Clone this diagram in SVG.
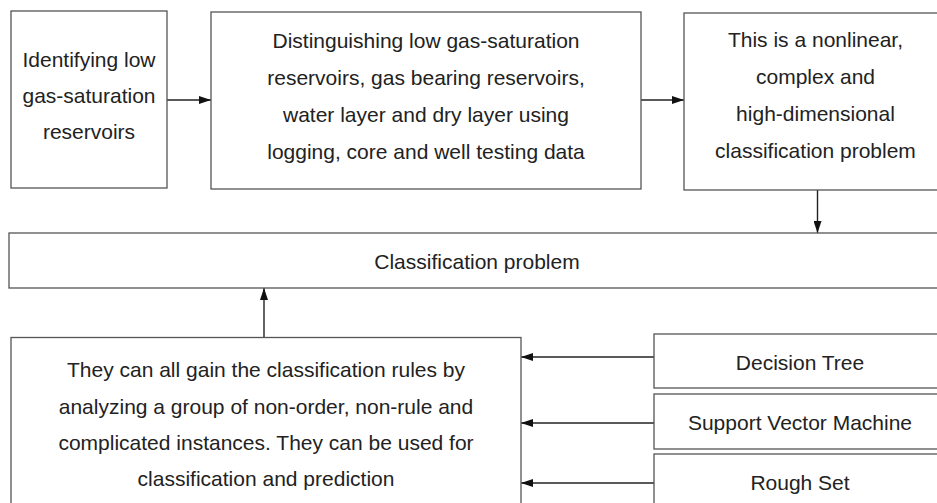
<svg xmlns="http://www.w3.org/2000/svg" width="937" height="503" viewBox="0 0 937 503">
<style>
.box{fill:#fff;stroke:#555;stroke-width:1.3}
.t{font-family:"Liberation Sans",Arial,sans-serif;font-size:21px;fill:#222;text-anchor:middle}
.c{stroke:#222;stroke-width:1.4;fill:none}
</style>
<defs>
<marker id="ah" markerWidth="12" markerHeight="8" refX="12" refY="4" orient="auto" markerUnits="userSpaceOnUse">
<path d="M0,0 L12,4 L0,8 Z" fill="#111"/>
</marker>
</defs>
<rect width="937" height="503" fill="#fff"/>
<g id="connectors">
<line class="c" x1="167" y1="100" x2="211" y2="100" marker-end="url(#ah)"/>
<line class="c" x1="641" y1="100" x2="684" y2="100" marker-end="url(#ah)"/>
<line class="c" x1="817.5" y1="190" x2="817.5" y2="233" marker-end="url(#ah)"/>
<line class="c" x1="264" y1="337" x2="264" y2="288" marker-end="url(#ah)"/>
<line class="c" x1="654" y1="357" x2="521" y2="357" marker-end="url(#ah)"/>
<line class="c" x1="654" y1="423" x2="521" y2="423" marker-end="url(#ah)"/>
<line class="c" x1="654" y1="483" x2="521" y2="483" marker-end="url(#ah)"/>
</g>
<g id="n1">
<rect class="box" x="11" y="11" width="156" height="177"/>
<text class="t" x="89" y="67">Identifying low</text>
<text class="t" x="89" y="103">gas-saturation</text>
<text class="t" x="89" y="139">reservoirs</text>
</g>
<g id="n2">
<rect class="box" x="211" y="12" width="430" height="177"/>
<text class="t" x="426" y="48">Distinguishing low gas-saturation</text>
<text class="t" x="426" y="85">reservoirs, gas bearing reservoirs,</text>
<text class="t" x="426" y="122">water layer and dry layer using</text>
<text class="t" x="426" y="159">logging, core and well testing data</text>
</g>
<g id="n3">
<rect class="box" x="684" y="13" width="263" height="177"/>
<text class="t" x="815.5" y="47">This is a nonlinear,</text>
<text class="t" x="815.5" y="84">complex and</text>
<text class="t" x="815.5" y="121">high-dimensional</text>
<text class="t" x="815.5" y="158">classification problem</text>
</g>
<g id="n4">
<rect class="box" x="9" y="233" width="936" height="55"/>
<text class="t" x="477" y="268.5">Classification problem</text>
</g>
<g id="n5">
<rect class="box" x="11" y="337.5" width="510" height="180"/>
<text class="t" x="266" y="377">They can all gain the classification rules by</text>
<text class="t" x="266" y="413.5">analyzing a group of non-order, non-rule and</text>
<text class="t" x="266" y="450">complicated instances. They can be used for</text>
<text class="t" x="266" y="486">classification and prediction</text>
</g>
<g id="n6">
<rect class="box" x="654" y="334" width="292" height="54"/>
<text class="t" x="800" y="370">Decision Tree</text>
</g>
<g id="n7">
<rect class="box" x="654" y="394" width="292" height="55"/>
<text class="t" x="800" y="430">Support Vector Machine</text>
</g>
<g id="n8">
<rect class="box" x="654" y="454" width="292" height="60"/>
<text class="t" x="800" y="490">Rough Set</text>
</g>
</svg>
